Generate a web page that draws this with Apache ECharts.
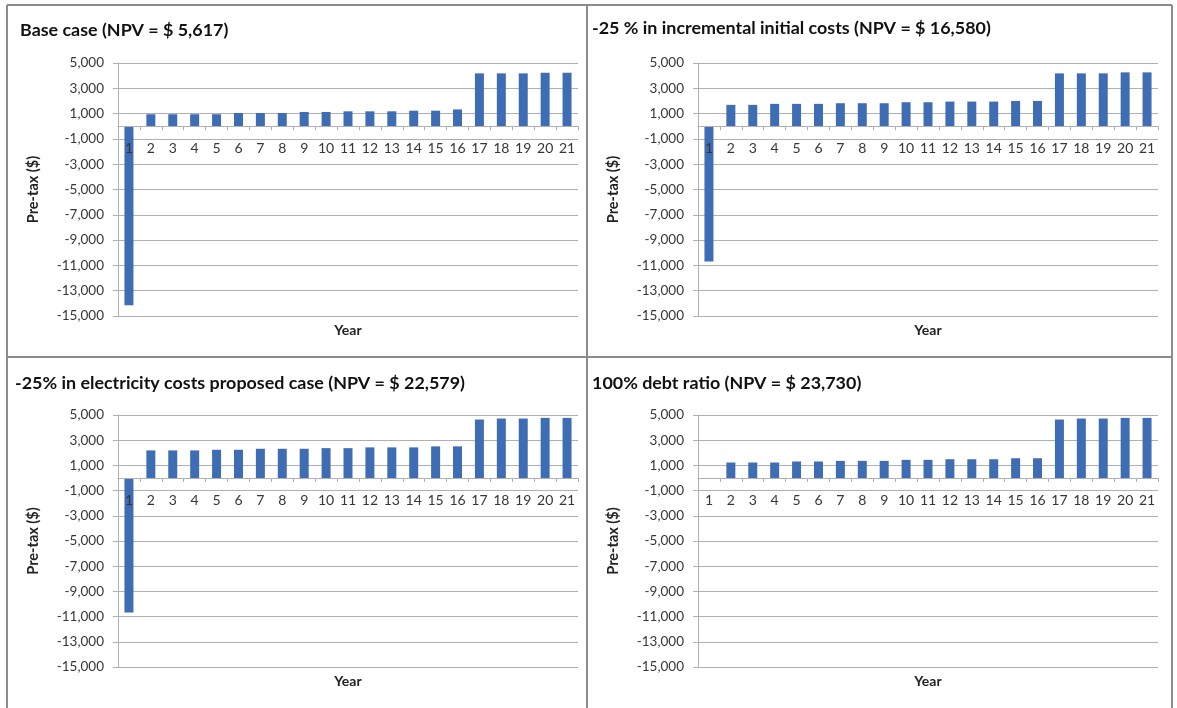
<!DOCTYPE html>
<html>
<head>
<meta charset="utf-8">
<script src="https://cdn.jsdelivr.net/npm/echarts@6/dist/echarts.min.js"></script>
<style>
  html, body { margin: 0; padding: 0; background: #fff; }
  #chart { width: 1177px; height: 708px; }
</style>
</head>
<body>
<div id="chart"></div>
<script>
// Years of the project cash flow
const years = ['1','2','3','4','5','6','7','8','9','10','11','12','13','14','15','16','17','18','19','20','21'];

// Pre-tax cash flow per scenario ($)
const baseCase = [-14150, 950, 950, 950, 950, 1050, 1050, 1050, 1130, 1130, 1180, 1180, 1180, 1230, 1230, 1330, 4180, 4180, 4180, 4230, 4230];
const lowerInitialCost = [-10700, 1690, 1690, 1770, 1770, 1770, 1820, 1820, 1820, 1900, 1900, 1950, 1950, 1950, 2000, 2000, 4180, 4180, 4180, 4260, 4260];
const lowerElectricity = [-10680, 2190, 2190, 2190, 2240, 2240, 2320, 2320, 2320, 2370, 2370, 2430, 2430, 2430, 2510, 2510, 4640, 4720, 4720, 4770, 4770];
const fullDebt = [0, 1230, 1230, 1230, 1310, 1310, 1360, 1360, 1360, 1440, 1440, 1490, 1490, 1490, 1570, 1570, 4640, 4720, 4720, 4770, 4770];

// Panel titles
const titles = [
  'Base case (NPV = $ 5,617)',
  '-25 % in incremental initial costs (NPV = $ 16,580)',
  '-25% in electricity costs proposed case (NPV = $ 22,579)',
  '100% debt ratio (NPV = $ 23,730)'
];
const seriesData = [baseCase, lowerInitialCost, lowerElectricity, fullDebt];

// Value axis range and step
const yMin = -15000, yMax = 5000, yStep = 2000;
const yName = 'Pre-tax ($)';
const xName = 'Year';

const FONT = 'Lato, "Open Sans", sans-serif';
const BAR = '#3f6db4';
const GRIDLINE = '#b0b0b0';
const LABEL = '#363636';

// Plot-area placement of the four panels
const grids = [
  { left: 118, top: 63, width: 460, height: 253 },
  { left: 698, top: 63, width: 460, height: 253 },
  { left: 118, top: 415, width: 460, height: 252 },
  { left: 698, top: 415, width: 460, height: 252 }
];
const titlePos = [
  { left: 20, top: 21 },
  { left: 592, top: 19 },
  { left: 15, top: 374 },
  { left: 592, top: 374 }
];

const fmt = v => v.toLocaleString('en-US');

const option = {
  backgroundColor: '#fff',
  animation: false,
  title: [],
  grid: grids.map(g => Object.assign({ containLabel: false }, g)),
  xAxis: [],
  yAxis: [],
  series: [],
  graphic: []
};

grids.forEach((g, i) => {
  // distance from the bottom of the plot up to the zero line
  const zeroLift = g.height * (0 - yMin) / (yMax - yMin);
  option.title.push({
    text: titles[i],
    left: titlePos[i].left,
    top: titlePos[i].top,
    padding: 0,
    textStyle: { fontFamily: FONT, fontWeight: 'bold', fontSize: 17.9, color: '#111' }
  });
  option.title.push({
    text: xName,
    left: g.left + g.width / 2,
    top: g.top + g.height + 7,
    padding: 0,
    textAlign: 'center',
    textStyle: { fontFamily: FONT, fontWeight: 'bold', fontSize: 14, color: '#222' }
  });
  option.xAxis.push({
    type: 'category',
    gridIndex: i,
    data: years,
    offset: -zeroLift,
    axisLine: { onZero: false, lineStyle: { color: GRIDLINE, width: 1 } },
    axisTick: { show: true, length: 4, lineStyle: { color: GRIDLINE } },
    axisLabel: { margin: 15, fontFamily: FONT, fontSize: 14, color: LABEL, interval: 0 },
    splitLine: { show: false },
    z: 3
  });
  option.yAxis.push({
    type: 'value',
    gridIndex: i,
    min: yMin,
    max: yMax,
    interval: yStep,
    name: yName,
    nameLocation: 'middle',
    nameGap: 77,
    nameTextStyle: { fontFamily: FONT, fontWeight: 'bold', fontSize: 14.5, color: '#222' },
    axisLine: { show: true, lineStyle: { color: GRIDLINE, width: 1 } },
    axisTick: { show: true, length: 5, lineStyle: { color: GRIDLINE } },
    axisLabel: { margin: 14, fontFamily: FONT, fontSize: 13.5, color: LABEL, formatter: fmt },
    splitLine: { show: true, lineStyle: { color: GRIDLINE, width: 1 } }
  });
  option.series.push({
    type: 'bar',
    xAxisIndex: i,
    yAxisIndex: i,
    data: seriesData[i],
    barWidth: 9,
    itemStyle: { color: BAR },
    z: 2
  });
});

// Panel frame lines
const frame = { stroke: '#8c8c8c', lineWidth: 2 };
[
  [7, 5, 1172, 5],
  [7, 357, 1172, 357],
  [7, 5, 7, 708],
  [587, 5, 587, 708],
  [1172, 5, 1172, 708]
].forEach(([x1, y1, x2, y2]) => {
  option.graphic.push({ type: 'line', shape: { x1, y1, x2, y2 }, style: frame, z: 10 });
});

const chart = echarts.init(document.getElementById('chart'), null, { renderer: 'canvas' });
chart.setOption(option);
</script>
</body>
</html>
